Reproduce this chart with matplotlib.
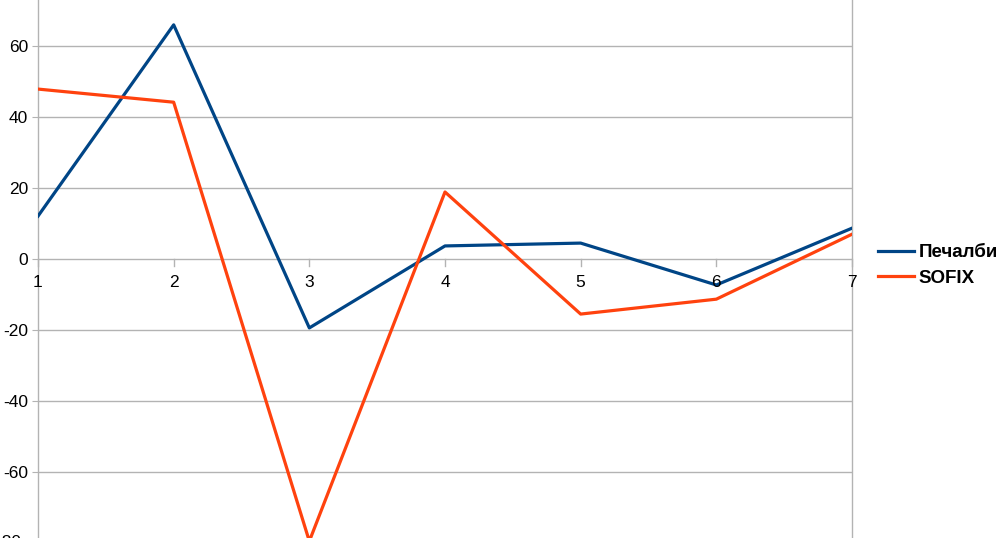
import matplotlib
matplotlib.use("Agg")
import matplotlib.pyplot as plt

periods = [1, 2, 3, 4, 5, 6, 7]
pechalbi = [12.1, 66.0, -19.4, 3.7, 4.5, -7.3, 8.7]
sofix = [47.9, 44.2, -79.5, 18.9, -15.5, -11.3, 7.0]
y_ticks = [-60, -40, -20, 0, 20, 40, 60]

plt.rcParams["font.family"] = ["Liberation Sans", "DejaVu Sans"]

fig = plt.figure(figsize=(10.01, 5.38), dpi=100)
ax = fig.add_axes([38 / 1001, 0, (852 - 38) / 1001, 1])

grid_color = "#b3b3b3"
for y in y_ticks:
    ax.axhline(y, color=grid_color, lw=1, zorder=1)

ax.plot(periods, pechalbi, color="#004586", lw=2.3, label="Печалби", zorder=3)
ax.plot(periods, sofix, color="#ff420e", lw=2.3, label="SOFIX", zorder=3)

ax.set_xlim(1, 7)
ax.set_ylim(-78.6, 73.0)

for side in ["top", "bottom"]:
    ax.spines[side].set_visible(False)
for side in ["left", "right"]:
    ax.spines[side].set_color(grid_color)
    ax.spines[side].set_linewidth(1)

ax.set_yticks(y_ticks)
ax.set_yticklabels([str(v) for v in y_ticks], fontsize=12.5)
ax.tick_params(axis="y", length=4, color=grid_color, pad=3)

# x axis drawn through zero
ax.set_xticks([])
for x in periods:
    ax.plot([x, x], [0, -2], color=grid_color, lw=1, clip_on=False, zorder=1)
    ax.text(x, -4.6, str(x), ha="center", va="top", fontsize=12.5)

# partially visible bottom label
ax.text(-0.02, -80, "-80", transform=ax.get_yaxis_transform(), ha="right",
        va="center", fontsize=12.5, clip_on=False)

ax.legend(loc="center left", bbox_to_anchor=(1 + 26 / 814, 0.5065), frameon=False,
          prop={"weight": "bold", "size": 13.5}, handlelength=1.9,
          handletextpad=0.27, labelspacing=0.45, borderpad=0, borderaxespad=0)

fig.savefig("out.png", dpi=100)
